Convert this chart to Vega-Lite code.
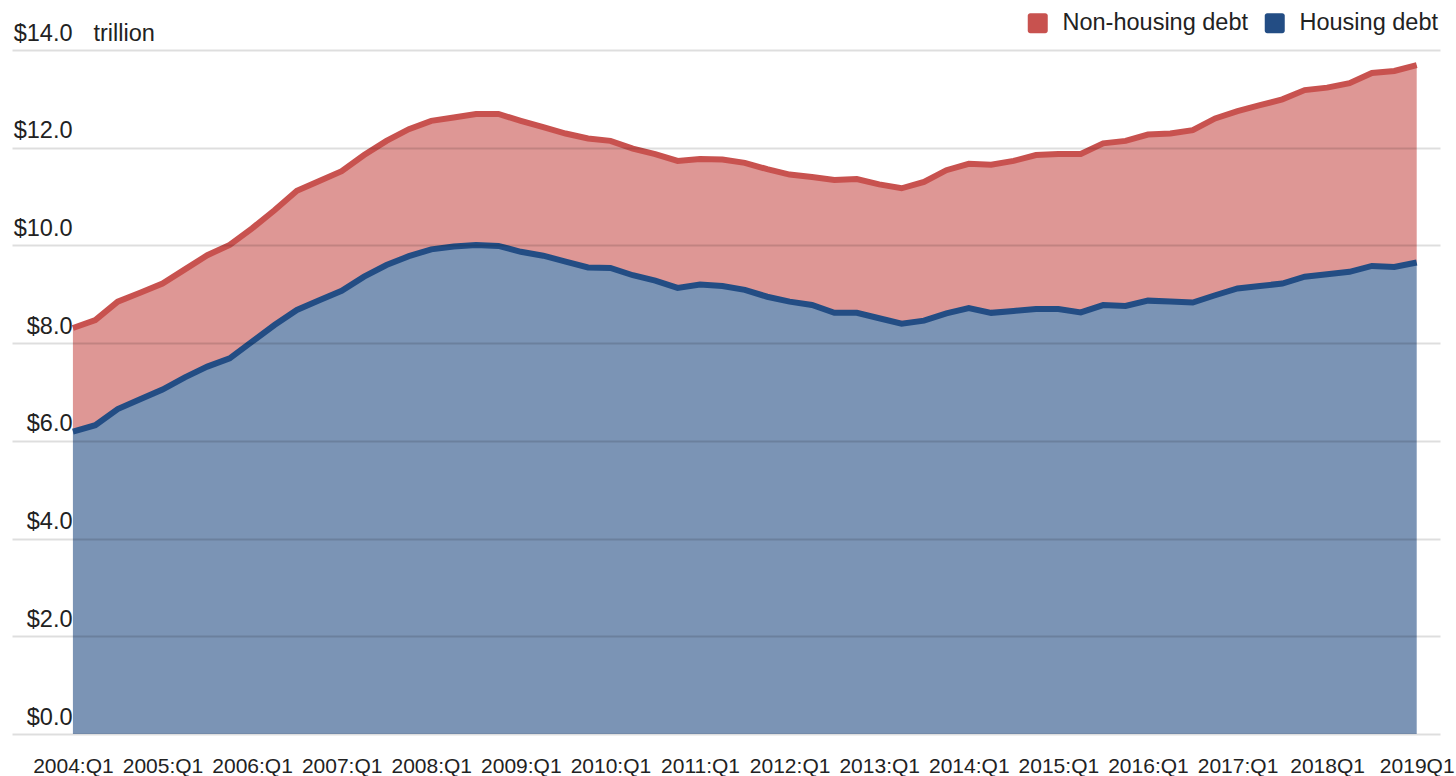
{
  "$schema": "https://vega.github.io/schema/vega-lite/v6.json",
  "width": 1428,
  "height": 684,
  "autosize": {"type": "none"},
  "padding": {"left": 12, "top": 50, "right": 16, "bottom": 42},
  "background": "white",
  "config": {"font": "Liberation Sans", "view": {"stroke": null}},
  "data": {"values": [
    {"t": 2004.00, "Housing debt": 6.19, "Non-housing debt": 2.12},
    {"t": 2004.25, "Housing debt": 6.32, "Non-housing debt": 2.15},
    {"t": 2004.50, "Housing debt": 6.65, "Non-housing debt": 2.20},
    {"t": 2004.75, "Housing debt": 6.85, "Non-housing debt": 2.18},
    {"t": 2005.00, "Housing debt": 7.05, "Non-housing debt": 2.17},
    {"t": 2005.25, "Housing debt": 7.30, "Non-housing debt": 2.21},
    {"t": 2005.50, "Housing debt": 7.52, "Non-housing debt": 2.28},
    {"t": 2005.75, "Housing debt": 7.69, "Non-housing debt": 2.32},
    {"t": 2006.00, "Housing debt": 8.03, "Non-housing debt": 2.32},
    {"t": 2006.25, "Housing debt": 8.37, "Non-housing debt": 2.35},
    {"t": 2006.50, "Housing debt": 8.68, "Non-housing debt": 2.44},
    {"t": 2006.75, "Housing debt": 8.88, "Non-housing debt": 2.44},
    {"t": 2007.00, "Housing debt": 9.07, "Non-housing debt": 2.45},
    {"t": 2007.25, "Housing debt": 9.36, "Non-housing debt": 2.49},
    {"t": 2007.50, "Housing debt": 9.60, "Non-housing debt": 2.54},
    {"t": 2007.75, "Housing debt": 9.78, "Non-housing debt": 2.60},
    {"t": 2008.00, "Housing debt": 9.92, "Non-housing debt": 2.63},
    {"t": 2008.25, "Housing debt": 9.98, "Non-housing debt": 2.64},
    {"t": 2008.50, "Housing debt": 10.01, "Non-housing debt": 2.68},
    {"t": 2008.75, "Housing debt": 9.99, "Non-housing debt": 2.70},
    {"t": 2009.00, "Housing debt": 9.87, "Non-housing debt": 2.68},
    {"t": 2009.25, "Housing debt": 9.79, "Non-housing debt": 2.63},
    {"t": 2009.50, "Housing debt": 9.67, "Non-housing debt": 2.62},
    {"t": 2009.75, "Housing debt": 9.55, "Non-housing debt": 2.64},
    {"t": 2010.00, "Housing debt": 9.54, "Non-housing debt": 2.60},
    {"t": 2010.25, "Housing debt": 9.39, "Non-housing debt": 2.59},
    {"t": 2010.50, "Housing debt": 9.28, "Non-housing debt": 2.59},
    {"t": 2010.75, "Housing debt": 9.13, "Non-housing debt": 2.60},
    {"t": 2011.00, "Housing debt": 9.20, "Non-housing debt": 2.57},
    {"t": 2011.25, "Housing debt": 9.17, "Non-housing debt": 2.59},
    {"t": 2011.50, "Housing debt": 9.09, "Non-housing debt": 2.60},
    {"t": 2011.75, "Housing debt": 8.95, "Non-housing debt": 2.61},
    {"t": 2012.00, "Housing debt": 8.85, "Non-housing debt": 2.60},
    {"t": 2012.25, "Housing debt": 8.78, "Non-housing debt": 2.62},
    {"t": 2012.50, "Housing debt": 8.62, "Non-housing debt": 2.72},
    {"t": 2012.75, "Housing debt": 8.62, "Non-housing debt": 2.74},
    {"t": 2013.00, "Housing debt": 8.51, "Non-housing debt": 2.74},
    {"t": 2013.25, "Housing debt": 8.40, "Non-housing debt": 2.77},
    {"t": 2013.50, "Housing debt": 8.46, "Non-housing debt": 2.84},
    {"t": 2013.75, "Housing debt": 8.61, "Non-housing debt": 2.93},
    {"t": 2014.00, "Housing debt": 8.72, "Non-housing debt": 2.95},
    {"t": 2014.25, "Housing debt": 8.62, "Non-housing debt": 3.03},
    {"t": 2014.50, "Housing debt": 8.66, "Non-housing debt": 3.07},
    {"t": 2014.75, "Housing debt": 8.70, "Non-housing debt": 3.15},
    {"t": 2015.00, "Housing debt": 8.70, "Non-housing debt": 3.17},
    {"t": 2015.25, "Housing debt": 8.63, "Non-housing debt": 3.24},
    {"t": 2015.50, "Housing debt": 8.78, "Non-housing debt": 3.31},
    {"t": 2015.75, "Housing debt": 8.76, "Non-housing debt": 3.38},
    {"t": 2016.00, "Housing debt": 8.87, "Non-housing debt": 3.40},
    {"t": 2016.25, "Housing debt": 8.85, "Non-housing debt": 3.44},
    {"t": 2016.50, "Housing debt": 8.83, "Non-housing debt": 3.53},
    {"t": 2016.75, "Housing debt": 8.98, "Non-housing debt": 3.62},
    {"t": 2017.00, "Housing debt": 9.12, "Non-housing debt": 3.63},
    {"t": 2017.25, "Housing debt": 9.17, "Non-housing debt": 3.70},
    {"t": 2017.50, "Housing debt": 9.22, "Non-housing debt": 3.77},
    {"t": 2017.75, "Housing debt": 9.36, "Non-housing debt": 3.82},
    {"t": 2018.00, "Housing debt": 9.41, "Non-housing debt": 3.82},
    {"t": 2018.25, "Housing debt": 9.46, "Non-housing debt": 3.86},
    {"t": 2018.50, "Housing debt": 9.58, "Non-housing debt": 3.95},
    {"t": 2018.75, "Housing debt": 9.56, "Non-housing debt": 4.01},
    {"t": 2019.00, "Housing debt": 9.65, "Non-housing debt": 4.04}
  ]},
  "transform": [{"fold": ["Housing debt", "Non-housing debt"], "as": ["series", "value"]}],
  "encoding": {
    "x": {
      "field": "t", "type": "quantitative",
      "scale": {"domain": [2003.32, 2019.26], "nice": false, "zero": false},
      "axis": {
        "values": [2004, 2005, 2006, 2007, 2008, 2009, 2010, 2011, 2012, 2013, 2014, 2015, 2016, 2017, 2018, 2019],
        "labelExpr": "datum.value <= 2017 ? datum.value + ':Q1' : datum.value + 'Q1'",
        "title": null, "grid": false, "domain": false, "ticks": false, "tickSize": 0,
        "labelFontSize": 21, "labelColor": "#222222", "labelBaseline": "alphabetic",
        "labelPadding": 38, "labelFlush": false, "labelOverlap": false, "labelBound": false
      }
    },
    "y": {
      "field": "value", "type": "quantitative", "stack": "zero",
      "scale": {"domain": [0, 14], "nice": false},
      "axis": {
        "values": [0, 2, 4, 6, 8, 10, 12, 14],
        "format": "$.1f",
        "title": "trillion", "titleAngle": 0, "titleX": 81, "titleY": -10,
        "titleAlign": "left", "titleBaseline": "alphabetic", "titleFontWeight": "normal",
        "titleFontSize": 23.5, "titleColor": "#222222",
        "labelFontSize": 23.5, "labelColor": "#222222", "labelAlign": "right", "labelBaseline": "alphabetic",
        "labelPadding": -60, "labelOffset": -10, "ticks": false, "tickSize": 0, "domain": false,
        "gridColor": "#000000", "gridOpacity": 0.13, "gridWidth": 2, "zindex": 1
      }
    },
    "color": {
      "field": "series", "type": "nominal",
      "scale": {"domain": ["Non-housing debt", "Housing debt"], "range": ["#c8524f", "#234d84"]},
      "legend": {
        "title": null, "orient": "none", "direction": "horizontal",
        "legendX": 1014, "legendY": -39,
        "symbolType": "M-1,-0.75 A0.25,0.25 0 0 1 -0.75,-1 L0.75,-1 A0.25,0.25 0 0 1 1,-0.75 L1,0.75 A0.25,0.25 0 0 1 0.75,1 L-0.75,1 A0.25,0.25 0 0 1 -1,0.75 Z",
        "symbolSize": 400, "symbolOpacity": 1, "symbolStrokeWidth": 0,
        "labelFontSize": 23.5, "labelColor": "#222222", "labelOffset": 13, "labelLimit": 0,
        "columnPadding": 14
      }
    },
    "order": {"field": "series", "sort": "ascending"}
  },
  "layer": [
    {"mark": {"type": "area", "fillOpacity": 0.6}},
    {"mark": {"type": "line", "strokeWidth": 6}}
  ]
}
